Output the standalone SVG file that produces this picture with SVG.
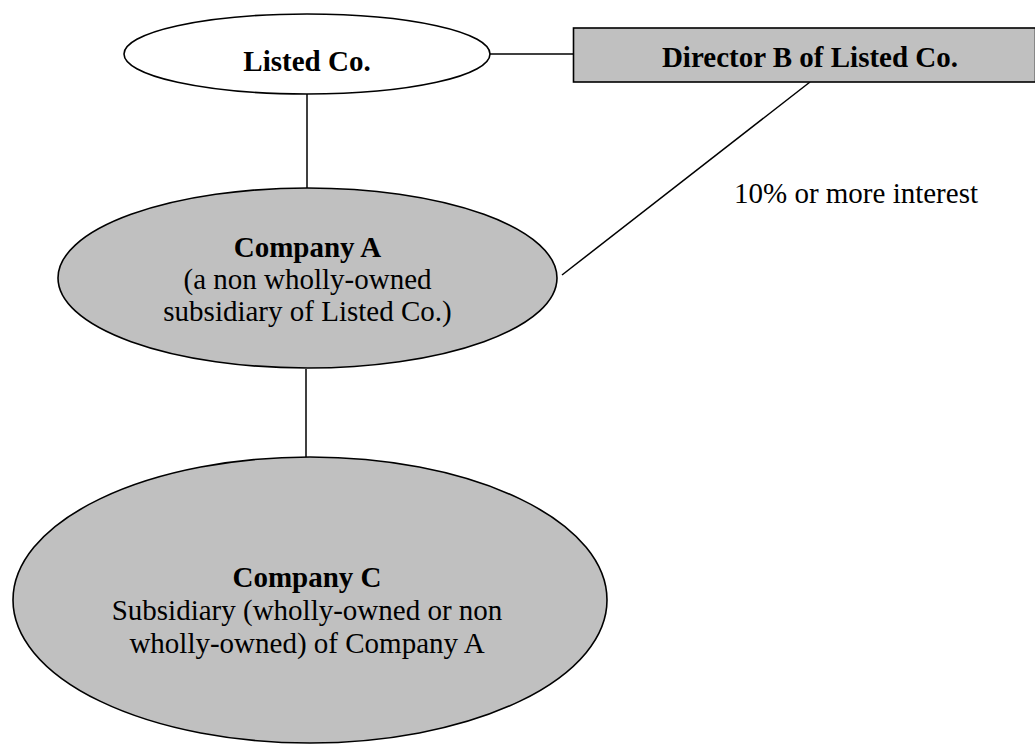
<svg xmlns="http://www.w3.org/2000/svg" width="1035" height="744" viewBox="0 0 1035 744">
<style>
.shape{stroke:#000;stroke-width:1.6}
.grey{fill:#c0c0c0}
.white{fill:#fff}
.conn{stroke:#000;stroke-width:1.5;fill:none}
text{font-family:"Liberation Serif","Times New Roman",serif;font-size:29px;fill:#000;text-anchor:middle}
.b{font-weight:bold}
</style>
<rect width="1035" height="744" fill="#fff"/>
<g id="connectors">
<line class="conn" x1="307" y1="94" x2="307" y2="188"/>
<line class="conn" x1="490" y1="54" x2="573" y2="54"/>
<line class="conn" x1="810" y1="82" x2="562" y2="275"/>
<line class="conn" x1="306" y1="369" x2="306" y2="457"/>
</g>
<g id="listed-co">
<ellipse class="shape white" cx="307" cy="54" rx="183" ry="40"/>
<text class="b" x="307" y="71">Listed Co.</text>
</g>
<g id="director-b">
<rect class="shape grey" x="573.5" y="28" width="462" height="54"/>
<text class="b" x="810" y="67">Director B of Listed Co.</text>
</g>
<g id="interest-label">
<text x="856" y="203">10% or more interest</text>
</g>
<g id="company-a">
<ellipse class="shape grey" cx="307.5" cy="278" rx="249.5" ry="90"/>
<text class="b" x="307.5" y="257">Company A</text>
<text x="307.5" y="289">(a non wholly-owned</text>
<text x="307.5" y="321">subsidiary of Listed Co.)</text>
</g>
<g id="company-c">
<ellipse class="shape grey" cx="310" cy="600" rx="297" ry="143"/>
<text class="b" x="307" y="587">Company C</text>
<text x="307" y="620">Subsidiary (wholly-owned or non</text>
<text x="307" y="653">wholly-owned) of Company A</text>
</g>
</svg>
